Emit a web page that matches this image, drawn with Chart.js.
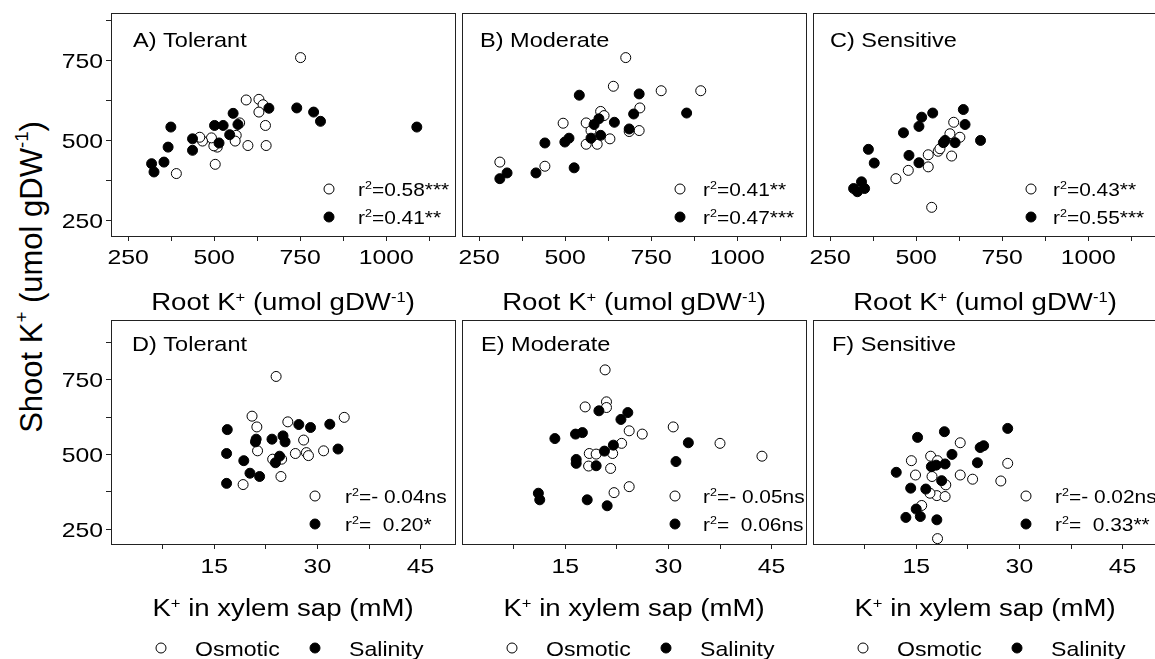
<!DOCTYPE html>
<html><head><meta charset="utf-8">
<script src="https://cdn.jsdelivr.net/npm/chart.js@4.4.1/dist/chart.umd.min.js"></script>
<style>
html,body{margin:0;padding:0;background:#fff;overflow:hidden;}
#wrap{position:relative;width:1155px;height:659px;overflow:hidden;background:#fff;}
#wrap canvas{position:absolute;}
#ytitle{position:absolute;width:420px;height:40px;left:-178px;top:257px;line-height:40px;text-align:center;transform:rotate(-90deg);font-family:'Liberation Sans',Arial,sans-serif;font-size:31px;color:#000;white-space:nowrap;}
#ytitle .sup{font-size:0.6em;position:relative;top:-0.75em;}
</style></head>
<body><div id="wrap">
<div id="ytitle">Shoot K<span class="sup">+</span> (umol gDW<span class="sup">-1</span>)</div>
</div>
<script>
// ---------------- DATA ----------------
const panelTitles = ['A) Tolerant', 'B) Moderate', 'C) Sensitive', 'D) Tolerant', 'E) Moderate', 'F) Sensitive'];
const osmoticR2  = ['0.58***', '0.41**', '0.43**', '- 0.04ns', '- 0.05ns', '- 0.02ns'];
const salinityR2 = ['0.41**', '0.47***', '0.55***', '  0.20*', '  0.06ns', '  0.33**'];
const seriesNames = ['Osmotic', 'Salinity'];

// Tick labels
const rootTicks = [250, 500, 750, 1000];
const rootMinorTicks = [375, 625, 875, 1125];
const xylemTicks = [15, 30, 45];
const xylemMinorTicks = [7.5, 22.5, 37.5];
const shootTicks = [250, 500, 750];
const shootMinorTicks = [375, 625, 875];

// Panel A - Root K+ vs Shoot K+, Tolerant
const aOsmX = [751, 593, 630, 642, 630, 649, 651, 598, 574, 564, 561, 509, 499, 492, 466, 458, 503, 390];
const aOsmY = [760, 627, 629, 612, 589, 547, 484, 484, 555, 516, 498, 479, 483, 508, 498, 510, 425, 396];
const aSalX = [318, 325, 354, 366, 374, 437, 437, 501, 526, 514, 545, 555, 569, 659, 740, 789, 809, 1089];
const aSalY = [427, 401, 432, 479, 542, 505, 469, 547, 547, 492, 518, 585, 550, 601, 602, 589, 560, 542];
// Panel B - Moderate
const bOsmX = [310, 441, 494, 561, 561, 575, 593, 603, 613, 630, 640, 676, 686, 715, 717, 779, 894];
const bOsmY = [432, 419, 554, 555, 488, 531, 488, 591, 578, 505, 670, 760, 528, 531, 602, 656, 656];
const bSalX = [310, 331, 415, 441, 499, 511, 526, 541, 575, 584, 598, 603, 643, 686, 699, 715, 853];
const bSalY = [380, 398, 398, 492, 495, 507, 414, 642, 507, 550, 568, 516, 557, 536, 583, 646, 586];
// Panel C - Sensitive
const cOsmX = [441, 477, 535, 535, 545, 564, 569, 598, 603, 609, 627];
const cOsmY = [380, 406, 417, 455, 290, 466, 474, 521, 451, 557, 510];
const cSalX = [318, 329, 341, 350, 361, 378, 463, 479, 508, 508, 516, 548, 579, 584, 613, 637, 642, 687];
const cSalY = [349, 339, 370, 349, 472, 429, 524, 453, 430, 544, 573, 586, 493, 500, 493, 597, 550, 500];
// Panel D - K+ in xylem sap vs Shoot K+, Tolerant
const dOsmX = [24.0, 20.5, 21.2, 21.3, 19.2, 24.7, 24.8, 23.5, 25.7, 26.8, 28.0, 28.4, 28.7, 30.9, 33.9];
const dOsmY = [761, 628, 592, 512, 399, 426, 484, 484, 609, 503, 548, 506, 496, 512, 624];
const dSalX = [16.9, 16.8, 16.8, 19.3, 20.2, 21.6, 21.1, 21.0, 23.4, 25.0, 25.3, 24.5, 23.9, 27.3, 29.0, 31.8, 33.0];
const dSalY = [583, 503, 403, 479, 437, 426, 551, 542, 551, 562, 542, 494, 472, 600, 590, 601, 518];
// Panel E - Moderate
const eOsmX = [20.8, 21.0, 21.0, 17.9, 24.3, 26.2, 23.2, 21.9, 18.5, 19.5, 18.4, 21.6, 22.1, 24.3, 30.7, 37.5, 43.6];
const eOsmY = [783, 676, 657, 659, 579, 568, 537, 503, 503, 501, 461, 453, 372, 392, 592, 537, 494];
const eSalX = [11.1, 11.3, 13.5, 16.5, 17.5, 16.6, 16.6, 18.2, 19.5, 19.9, 20.7, 22.0, 23.1, 24.1, 21.1, 31.1, 32.9];
const eSalY = [370, 348, 553, 568, 573, 483, 470, 348, 462, 646, 511, 531, 617, 640, 328, 476, 539];
// Panel F - Sensitive
const fOsmX = [14.3, 14.9, 15.8, 17.1, 18.1, 17.3, 19.3, 18.0, 19.2, 17.0, 21.4, 21.4, 23.2, 27.3, 28.3, 18.1];
const fOsmY = [479, 431, 329, 494, 479, 426, 398, 362, 359, 370, 539, 431, 417, 411, 470, 218];
const fSalX = [12.1, 14.2, 15.2, 13.5, 15.0, 15.6, 16.4, 17.2, 17.9, 18.0, 18.7, 19.2, 19.1, 20.2, 23.9, 24.3, 24.8, 28.3];
const fSalY = [440, 387, 557, 289, 317, 292, 384, 459, 464, 281, 412, 468, 576, 500, 472, 523, 529, 587];

// ---------------- LAYOUT / STYLE ----------------
const FONT = "'Liberation Sans', Arial, Helvetica, sans-serif";
const COL_LEFT = [111, 462, 813];
const PLOT_W = 344;
const ROW_TOP = [13, 320];
const PLOT_H = [223, 224];
const CANVAS_LEFT = [0, 458, 809];
const CANVAS_W = [458, 351, 351];
const CANVAS_TOP = [0, 318];
const CANVAS_H = [318, 341];
const Y_AXIS_W = 30;
const X_RANGE = [[200, 1200], [0, 50]];
const Y_RANGE = [[200, 900], [200, 950]];
const TICK_LABEL_OFF = [20, 21];
const X_TITLE_OFF = [66, 64];
const LEGEND_OFF = 104;
const ANN_POS = [ // [circleX, textX] relative to plot left
  [218, 247], [218, 241], [218, 240], [204, 234], [213, 241], [213, 242]
];
const ANN_Y = [176, 204];
const TITLE_POS = [[22, 26], [18, 26], [17, 26], [21, 23], [19, 23], [19, 23]];

const panelData = [
  [aOsmX, aOsmY, aSalX, aSalY], [bOsmX, bOsmY, bSalX, bSalY], [cOsmX, cOsmY, cSalX, cSalY],
  [dOsmX, dOsmY, dSalX, dSalY], [eOsmX, eOsmY, eSalX, eSalY], [fOsmX, fOsmY, fSalX, fSalY]
];
const xTitles = [
  [['Root K'], ['+', 1], [' (umol gDW'], ['-1', 1], [')']],
  [['K'], ['+', 1], [' in xylem sap (mM)']]
];

function drawText(ctx, parts, x, cy, size, align, stretch) {
  const supSize = size * 0.6;
  let total = 0;
  const widths = parts.map(p => {
    ctx.font = (p[1] ? supSize : size) + 'px ' + FONT;
    const w = ctx.measureText(p[0]).width;
    total += w;
    return w;
  });
  let x0 = x;
  if (align === 'center') x0 = x - total * stretch / 2;
  else if (align === 'right') x0 = x - total * stretch;
  ctx.save();
  ctx.translate(x0, cy + size * 0.358);
  ctx.scale(stretch, 1);
  ctx.fillStyle = '#000';
  ctx.textAlign = 'left';
  ctx.textBaseline = 'alphabetic';
  let cx = 0;
  parts.forEach((p, i) => {
    ctx.font = (p[1] ? supSize : size) + 'px ' + FONT;
    ctx.fillText(p[0], cx, p[1] ? -size * 0.36 : 0);
    cx += widths[i];
  });
  ctx.restore();
}

function marker(ctx, x, y, filled) {
  ctx.save();
  ctx.beginPath();
  ctx.arc(x, y, 5, 0, Math.PI * 2);
  ctx.fillStyle = filled ? '#000' : '#fff';
  ctx.fill();
  ctx.lineWidth = 1;
  ctx.strokeStyle = '#000';
  ctx.stroke();
  ctx.restore();
}

const decoPlugin = {
  id: 'deco',
  afterDraw(chart) {
    const o = chart.options.plugins.deco;
    const ctx = chart.ctx;
    const ca = chart.chartArea;
    const row = o.row, col = o.col, idx = row * 3 + col;
    // frame
    ctx.save();
    ctx.strokeStyle = '#222';
    ctx.lineWidth = 1;
    const l = Math.round(ca.left) + 0.5, t = Math.round(ca.top) + 0.5;
    ctx.strokeRect(l, t, Math.round(ca.right - ca.left), Math.round(ca.bottom - ca.top));
    ctx.restore();
    // x tick labels
    const xs = chart.scales.x;
    const majors = row === 0 ? rootTicks : xylemTicks;
    majors.forEach(v => drawText(ctx, [[String(v)]], xs.getPixelForValue(v), ca.bottom + TICK_LABEL_OFF[row], 21, 'center', 1.18));
    // y tick labels
    if (col === 0) {
      const ys = chart.scales.y;
      shootTicks.forEach(v => drawText(ctx, [[String(v)]], ca.left - 8, ys.getPixelForValue(v), 21, 'right', 1.18));
    }
    // x title
    drawText(ctx, xTitles[row], (ca.left + ca.right) / 2, ca.bottom + X_TITLE_OFF[row], 23, 'center', 1.2);
    // panel title
    drawText(ctx, [[panelTitles[idx]]], ca.left + TITLE_POS[idx][0], ca.top + TITLE_POS[idx][1], 21, 'left', 1.12);
    // r2 annotations
    const ap = ANN_POS[idx];
    marker(ctx, ca.left + ap[0], ca.top + ANN_Y[0], false);
    marker(ctx, ca.left + ap[0], ca.top + ANN_Y[1], true);
    drawText(ctx, [['r'], ['2', 1], ['=' + osmoticR2[idx]]], ca.left + ap[1], ca.top + ANN_Y[0], 19, 'left', 1.1);
    drawText(ctx, [['r'], ['2', 1], ['=' + salinityR2[idx]]], ca.left + ap[1], ca.top + ANN_Y[1], 19, 'left', 1.1);
    // bottom legend
    if (row === 1) {
      const ly = ca.bottom + LEGEND_OFF;
      marker(ctx, ca.left + 50, ly, false);
      drawText(ctx, [[seriesNames[0]]], ca.left + 84, ly, 21, 'left', 1.1);
      marker(ctx, ca.left + 204, ly, true);
      drawText(ctx, [[seriesNames[1]]], ca.left + 238, ly, 21, 'left', 1.1);
    }
  }
};

const wrap = document.getElementById('wrap');
for (let row = 0; row < 2; row++) {
  for (let col = 0; col < 3; col++) {
    const idx = row * 3 + col;
    const d = panelData[idx];
    const cv = document.createElement('canvas');
    cv.width = CANVAS_W[col];
    cv.height = CANVAS_H[row];
    cv.style.left = CANVAS_LEFT[col] + 'px';
    cv.style.top = CANVAS_TOP[row] + 'px';
    cv.style.width = CANVAS_W[col] + 'px';
    cv.style.height = CANVAS_H[row] + 'px';
    wrap.appendChild(cv);
    const yW = col === 0 ? Y_AXIS_W : 0;
    const xMaj = row === 0 ? rootTicks : xylemTicks;
    const xMin = row === 0 ? rootMinorTicks : xylemMinorTicks;
    const xAll = xMaj.concat(xMin).sort((a, b) => a - b);
    const yAll = shootTicks.concat(shootMinorTicks).sort((a, b) => a - b);
    const xAxisH = CANVAS_TOP[row] + CANVAS_H[row] - (ROW_TOP[row] + PLOT_H[row]);
    new Chart(cv, {
      type: 'scatter',
      data: {
        datasets: [
          {
            label: seriesNames[0],
            data: d[0].map((x, i) => ({x: x, y: d[1][i]})),
            backgroundColor: '#fff', borderColor: '#000',
            pointBackgroundColor: '#fff', pointBorderColor: '#000',
            pointRadius: 5, pointHoverRadius: 5, pointBorderWidth: 1,
            order: 1
          },
          {
            label: seriesNames[1],
            data: d[2].map((x, i) => ({x: x, y: d[3][i]})),
            backgroundColor: '#000', borderColor: '#000',
            pointBackgroundColor: '#000', pointBorderColor: '#000',
            pointRadius: 5, pointHoverRadius: 5, pointBorderWidth: 1,
            order: 0
          }
        ]
      },
      options: {
        responsive: false,
        devicePixelRatio: 1,
        animation: false,
        events: [],
        layout: {
          autoPadding: false,
          padding: {
            left: COL_LEFT[col] - CANVAS_LEFT[col] - yW,
            right: CANVAS_LEFT[col] + CANVAS_W[col] - (COL_LEFT[col] + PLOT_W),
            top: ROW_TOP[row] - CANVAS_TOP[row],
            bottom: 0
          }
        },
        scales: {
          x: {
            type: 'linear', position: 'bottom',
            min: X_RANGE[row][0], max: X_RANGE[row][1],
            afterBuildTicks: s => { s.ticks = xAll.map(v => ({value: v})); },
            afterFit: s => { s.height = xAxisH; },
            ticks: {display: false},
            border: {display: false},
            grid: {drawOnChartArea: false, drawTicks: true, tickLength: 5, color: '#222', tickColor: '#222', lineWidth: 1}
          },
          y: {
            type: 'linear', position: 'left',
            display: col === 0,
            min: Y_RANGE[row][0], max: Y_RANGE[row][1],
            afterBuildTicks: s => { s.ticks = yAll.map(v => ({value: v})); },
            afterFit: s => { s.width = yW; },
            ticks: {display: false},
            border: {display: false},
            grid: {drawOnChartArea: false, drawTicks: true, tickLength: 5, color: '#222', tickColor: '#222', lineWidth: 1}
          }
        },
        plugins: {
          legend: {display: false},
          tooltip: {enabled: false},
          deco: {row: row, col: col}
        }
      },
      plugins: [decoPlugin]
    });
  }
}
</script>
</body></html>
